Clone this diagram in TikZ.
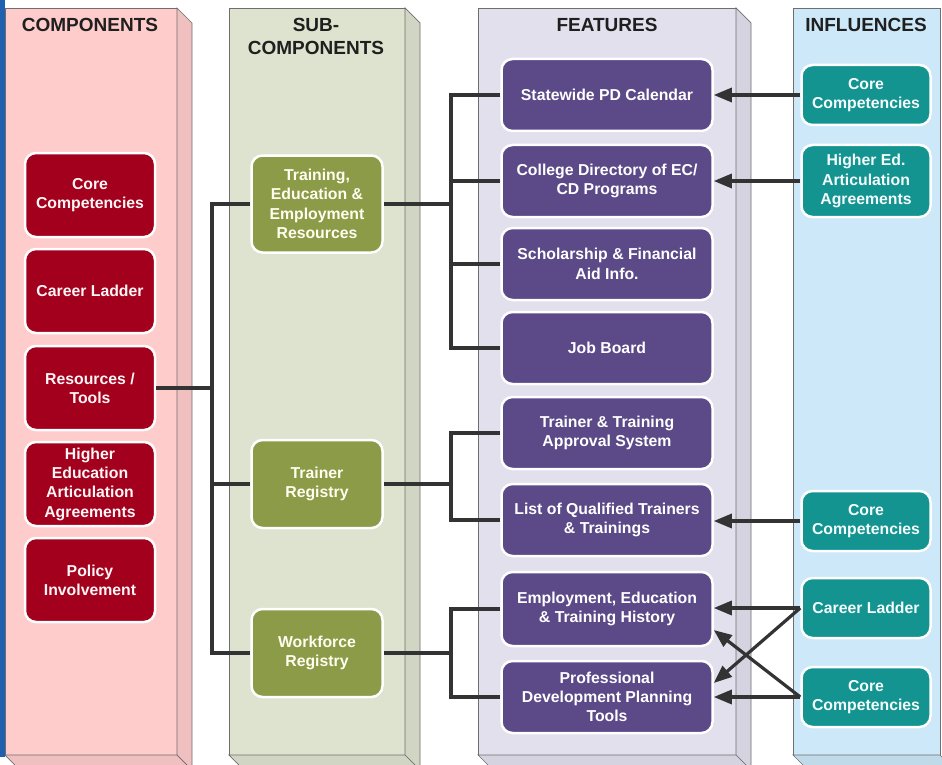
\documentclass[tikz,border=0pt]{standalone}
\usepackage{fontspec}
\setmainfont{Liberation Sans}
\usetikzlibrary{arrows.meta, shadows}

\definecolor{compbg}{HTML}{FFCCCC}
\definecolor{subbg}{HTML}{DEE3CF}
\definecolor{featbg}{HTML}{E3E0EE}
\definecolor{inflbg}{HTML}{CDE8F8}
\definecolor{edgegray}{HTML}{6E6E6E}
\definecolor{compred}{HTML}{A3001E}
\definecolor{subolive}{HTML}{8C9B48}
\definecolor{featpurple}{HTML}{5B4988}
\definecolor{inflteal}{HTML}{139490}
\definecolor{linkgray}{HTML}{333333}
\definecolor{leftblue}{HTML}{2060B0}

\tikzset{
  colface/.style={draw=edgegray, line width=0.7pt},
  heading/.style={font=\fontsize{19}{23}\selectfont\bfseries, text=black!88, align=center},
  box/.style={rounded corners=11pt, draw=white, line width=2.5pt, align=center,
    inner sep=2pt, font=\fontsize{15.8}{19.3}\selectfont\bfseries,
    drop shadow={opacity=0.22, shadow xshift=1pt, shadow yshift=-1pt}},
  compbox/.style={box, fill=compred, text=red!4, minimum width=130pt, minimum height=84pt},
  subbox/.style={box, fill=subolive, text=yellow!6, minimum width=131pt, minimum height=88pt},
  featbox/.style={box, fill=featpurple, text=white, minimum width=211pt, minimum height=72pt},
  inflbox/.style={box, fill=inflteal, text=cyan!4, minimum width=129pt, minimum height=60pt},
  link/.style={draw=linkgray, line width=3.2pt},
  feed/.style={link, -{Triangle[length=18pt, width=14pt]}},
}

\begin{document}
\begin{tikzpicture}[x=1pt, y=-1pt]

\clip ( 0, 0 ) rectangle ( 942, 765 );
\fill [white] ( 0, 0 ) rectangle ( 942, 765 );

% Components column
\filldraw [colface, fill=compbg] ( 5, 8 ) rectangle ( 177, 755 );
\filldraw [colface, fill=compbg!94!black] ( 177, 8 ) -- ++( 15, 15 ) -- ++( 0, 747 ) -- ( 177, 755 ) -- cycle;
\filldraw [colface, fill=compbg!94!black] ( 5, 755 ) -- ++( 15, 15 ) -- ++( 172, 0 ) -- ( 177, 755 ) -- cycle;

% Sub-components column
\filldraw [colface, fill=subbg] ( 229, 8 ) rectangle ( 405, 755 );
\filldraw [colface, fill=subbg!94!black] ( 405, 8 ) -- ++( 15, 15 ) -- ++( 0, 747 ) -- ( 405, 755 ) -- cycle;
\filldraw [colface, fill=subbg!94!black] ( 229, 755 ) -- ++( 15, 15 ) -- ++( 176, 0 ) -- ( 405, 755 ) -- cycle;

% Features column
\filldraw [colface, fill=featbg] ( 478, 8 ) rectangle ( 736, 755 );
\filldraw [colface, fill=featbg!94!black] ( 736, 8 ) -- ++( 15, 15 ) -- ++( 0, 747 ) -- ( 736, 755 ) -- cycle;
\filldraw [colface, fill=featbg!94!black] ( 478, 755 ) -- ++( 15, 15 ) -- ++( 258, 0 ) -- ( 736, 755 ) -- cycle;

% Influences column
\filldraw [colface, fill=inflbg] ( 793, 8 ) rectangle ( 940, 755 );
\filldraw [colface, fill=inflbg!94!black] ( 793, 755 ) -- ++( 15, 15 ) -- ++( 147, 0 ) -- ( 940, 755 ) -- cycle;

% Blue edge
\fill [leftblue] ( 0, 0 ) rectangle ( 5, 757 );

% Headings
\node [heading] (hcomp) at ( 90, 25 ) {COMPONENTS};
\node [heading] (hsub) at ( 316, 36 ) {SUB-\\COMPONENTS};
\node [heading] (hfeat) at ( 607, 25 ) {FEATURES};
\node [heading] (hinfl) at ( 866, 25 ) {INFLUENCES};

% Components
\node [compbox] (core) at ( 90, 195 ) {Core\\Competencies};
\node [compbox] (ladder) at ( 90, 291 ) {Career Ladder};
\node [compbox] (res) at ( 90, 388 ) {Resources /\\Tools};
\node [compbox] (higher) at ( 90, 484 ) {Higher\\Education\\Articulation\\Agreements};
\node [compbox] (policy) at ( 90, 580 ) {Policy\\Involvement};

% Sub-components
\node [subbox, minimum height=97pt] (train) at ( 317, 204 ) {Training,\\Education \&\\Employment\\Resources};
\node [subbox] (trainer) at ( 317, 484 ) {Trainer\\Registry};
\node [subbox] (work) at ( 317, 653 ) {Workforce\\Registry};

% Features
\node [featbox] (cal) at ( 607, 95 ) {Statewide PD Calendar};
\node [featbox] (dir) at ( 607, 181 ) {College Directory of EC/\\CD Programs};
\node [featbox] (schol) at ( 607, 264 ) {Scholarship \& Financial\\Aid Info.};
\node [featbox] (job) at ( 607, 348 ) {Job Board};
\node [featbox] (approve) at ( 607, 433 ) {Trainer \& Training\\Approval System};
\node [featbox] (listq) at ( 607, 520 ) {List of Qualified Trainers\\\& Trainings};
\node [featbox, minimum height=74pt] (hist) at ( 607, 609 ) {Employment, Education\\\& Training History};
\node [featbox] (pdtools) at ( 607, 697 ) {Professional\\Development Planning\\Tools};

% Influences
\node [inflbox] (icore) at ( 866, 95 ) {Core\\Competencies};
\node [inflbox, minimum height=72pt] (ihigher) at ( 866, 181 ) {Higher Ed.\\Articulation\\Agreements};
\node [inflbox] (icoreb) at ( 866, 521 ) {Core\\Competencies};
\node [inflbox] (iladder) at ( 866, 608 ) {Career Ladder};
\node [inflbox] (icorec) at ( 866, 697 ) {Core\\Competencies};

% Hubs
\coordinate (hubA) at ( 212, 388 );
\coordinate (hubB) at ( 451, 204 );
\coordinate (hubC) at ( 451, 484 );
\coordinate (hubD) at ( 451, 653 );

% Components to sub-components
\draw [link] (res.east) -- (hubA);
\draw [link] (train.west) -| (hubA) |- (work.west);
\draw [link] (trainer.west) -- (trainer.west -| hubA);

% Sub-components to features
\draw [link] (train.east) -- (hubB);
\draw [link] (cal.west) -| (hubB) |- (job.west);
\draw [link] (dir.west) -- (dir.west -| hubB);
\draw [link] (schol.west) -- (schol.west -| hubB);

\draw [link] (trainer.east) -- (hubC);
\draw [link] (approve.west) -| (hubC) |- (listq.west);

\draw [link] (work.east) -- (hubD);
\draw [link] (hist.west) -| (hubD) |- (pdtools.west);

% Influences to features
\draw [feed] (icore.west) -- (cal.east);
\draw [feed] (ihigher.west) -- (dir.east);
\draw [feed] (icoreb.west) -- (listq.east |- icoreb.west);
\draw [feed] (iladder.west) -- (hist.east |- iladder.west);
\draw [feed] (iladder.west) -- ([yshift=14pt]pdtools.east);
\draw [feed] (icorec.west) -- (pdtools.east);
\draw [feed] (icorec.west) -- ([yshift=-21pt]hist.east);

\end{tikzpicture}
\end{document}
